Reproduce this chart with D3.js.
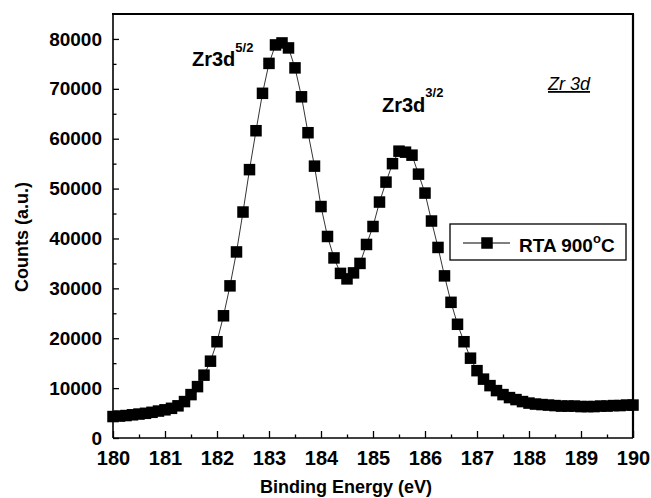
<!DOCTYPE html>
<html>
<head>
<meta charset="utf-8">
<script src="https://cdn.jsdelivr.net/npm/d3@7"></script>
<style>
  body { margin: 0; background: #fff; }
  svg { display: block; font-family: "Liberation Sans", Arial, sans-serif; }
</style>
</head>
<body>
<div id="chart"></div>
<script>
// binding energy (eV) and counts
var energy = [
  180.000, 180.125, 180.250, 180.375, 180.500, 180.625, 180.750, 180.875,
  181.000, 181.125, 181.250, 181.375, 181.500, 181.625, 181.750, 181.875,
  182.000, 182.125, 182.250, 182.375, 182.500, 182.625, 182.750, 182.875,
  183.000, 183.125, 183.250, 183.375, 183.500, 183.625, 183.750, 183.875,
  184.000, 184.125, 184.250, 184.375, 184.500, 184.625, 184.750, 184.875,
  185.000, 185.125, 185.250, 185.375, 185.500, 185.625, 185.750, 185.875,
  186.000, 186.125, 186.250, 186.375, 186.500, 186.625, 186.750, 186.875,
  187.000, 187.125, 187.250, 187.375, 187.500, 187.625, 187.750, 187.875,
  188.000, 188.125, 188.250, 188.375, 188.500, 188.625, 188.750, 188.875,
  189.000, 189.125, 189.250, 189.375, 189.500, 189.625, 189.750, 189.875,
  190.000
]
var counts = [
  4300, 4400, 4500, 4650, 4800, 4950, 5150, 5400,
  5650, 5950, 6450, 7300, 8700, 10300, 12600, 15400,
  19300, 24500, 30500, 37300, 45300, 53800, 61600, 69100,
  75100, 78800, 79200, 78200, 74200, 68400, 61200, 54500,
  46400, 40400, 36100, 33000, 31900, 33100, 35000, 38800,
  42400, 47300, 51300, 55000, 57500, 57300, 56700, 52900,
  49100, 43500, 38200, 32500, 27200, 22800, 19300, 16000,
  13500, 11800, 10500, 9500, 8700, 8100, 7700, 7300,
  7000, 6800, 6700, 6600, 6500, 6400, 6400, 6400,
  6300, 6300, 6300, 6400, 6400, 6500, 6500, 6600,
  6600
]

var xMajor = [180, 181, 182, 183, 184, 185, 186, 187, 188, 189, 190]
var xMinor = [180.5, 181.5, 182.5, 183.5, 184.5, 185.5, 186.5, 187.5, 188.5, 189.5]
var yMajor = [0, 10000, 20000, 30000, 40000, 50000, 60000, 70000, 80000]
var yMinor = [5000, 15000, 25000, 35000, 45000, 55000, 65000, 75000]

var seriesName = "RTA 900"

const W = 651, H = 498
const mLeft = 113, mRight = 633, mTop = 14, mBottom = 438

const svg = d3.select("#chart").append("svg")
  .attr("width", W)
  .attr("height", H)

const x = d3.scaleLinear().domain([180, 190]).range([mLeft, mRight])
const y = d3.scaleLinear().domain([0, 85000]).range([mBottom, mTop])

// axes, ticks point inward
svg.append("g")
  .attr("transform", `translate(0,${mBottom})`)
  .call(d3.axisBottom(x).tickValues(xMinor).tickSize(-3.5).tickFormat(""))
svg.append("g")
  .attr("class", "xaxis")
  .attr("transform", `translate(0,${mBottom})`)
  .call(d3.axisBottom(x).tickValues(xMajor).tickSize(-7).tickPadding(13).tickFormat(d3.format("d")))
svg.append("g")
  .attr("transform", `translate(${mLeft},0)`)
  .call(d3.axisLeft(y).tickValues(yMinor).tickSize(-3.5).tickFormat(""))
svg.append("g")
  .attr("class", "yaxis")
  .attr("transform", `translate(${mLeft},0)`)
  .call(d3.axisLeft(y).tickValues(yMajor).tickSize(-6).tickPadding(11).tickFormat(d3.format("d")))

svg.selectAll(".domain").remove()
svg.selectAll(".tick line").attr("stroke", "#000").attr("stroke-width", 1.3)
svg.selectAll(".xaxis text")
  .attr("font-family", "Liberation Sans, Arial, sans-serif")
  .attr("font-size", 20)
  .attr("font-weight", "bold")
  .attr("fill", "#000")
svg.selectAll(".yaxis text")
  .attr("font-family", "Liberation Sans, Arial, sans-serif")
  .attr("font-size", 19)
  .attr("font-weight", "bold")
  .attr("fill", "#000")

// frame
svg.append("line").attr("x1", mLeft).attr("x2", mLeft).attr("y1", mTop).attr("y2", mBottom)
  .attr("stroke", "#000").attr("stroke-width", 1.6)
svg.append("line").attr("x1", mLeft).attr("x2", mRight).attr("y1", mBottom).attr("y2", mBottom)
  .attr("stroke", "#000").attr("stroke-width", 1.6)
svg.append("line").attr("x1", mLeft - 1).attr("x2", mRight + 1).attr("y1", mTop).attr("y2", mTop)
  .attr("stroke", "#000").attr("stroke-width", 2.2)
svg.append("line").attr("x1", mRight).attr("x2", mRight).attr("y1", mTop).attr("y2", mBottom)
  .attr("stroke", "#000").attr("stroke-width", 2.2)

// series
const pts = energy.map((e, i) => ({e: e, c: counts[i]}))

svg.append("path")
  .datum(pts)
  .attr("fill", "none")
  .attr("stroke", "#000")
  .attr("stroke-width", 0.8)
  .attr("d", d3.line().x(d => x(d.e)).y(d => y(d.c)))

const ms = 11.5
svg.append("g")
  .selectAll("rect")
  .data(pts)
  .join("rect")
  .attr("x", d => x(d.e) - ms / 2)
  .attr("y", d => y(d.c) - ms / 2)
  .attr("width", ms)
  .attr("height", ms)
  .attr("fill", "#000")

// axis titles
svg.append("text")
  .attr("x", 346)
  .attr("y", 493)
  .attr("text-anchor", "middle")
  .attr("font-size", 18)
  .attr("font-weight", "bold")
  .text("Binding Energy (eV)")

svg.append("text")
  .attr("transform", "translate(28,237) rotate(-90)")
  .attr("text-anchor", "middle")
  .attr("font-size", 18)
  .attr("font-weight", "bold")
  .text("Counts (a.u.)")

// peak labels
var peak1 = svg.append("text")
  .attr("x", 192)
  .attr("y", 66)
  .attr("font-size", 20)
  .attr("font-weight", "bold")
peak1.append("tspan").text("Zr3d")
peak1.append("tspan").attr("dy", -14).attr("font-size", 13).text("5/2")

var peak2 = svg.append("text")
  .attr("x", 382)
  .attr("y", 112)
  .attr("font-size", 20)
  .attr("font-weight", "bold")
peak2.append("tspan").text("Zr3d")
peak2.append("tspan").attr("dy", -15).attr("font-size", 13).text("3/2")

svg.append("text")
  .attr("x", 548)
  .attr("y", 90)
  .attr("font-size", 18)
  .attr("font-style", "italic")
  .attr("text-decoration", "underline")
  .text("Zr 3d")

// legend
const lg = svg.append("g")
lg.append("rect")
  .attr("x", 450).attr("y", 224)
  .attr("width", 176).attr("height", 36)
  .attr("fill", "#fff")
  .attr("stroke", "#000")
  .attr("stroke-width", 1.3)
lg.append("line")
  .attr("x1", 463).attr("x2", 510)
  .attr("y1", 243).attr("y2", 243)
  .attr("stroke", "#000").attr("stroke-width", 1)
lg.append("rect")
  .attr("x", 487 - ms / 2).attr("y", 243 - ms / 2)
  .attr("width", ms).attr("height", ms)
  .attr("fill", "#000")
var lt = lg.append("text")
  .attr("x", 519)
  .attr("y", 252)
  .attr("font-size", 19)
  .attr("font-weight", "bold")
lt.append("tspan").text(seriesName)
lt.append("tspan").attr("dy", -9).attr("font-size", 13).text("o")
lt.append("tspan").attr("dy", 9).text("C")
</script>
</body>
</html>
